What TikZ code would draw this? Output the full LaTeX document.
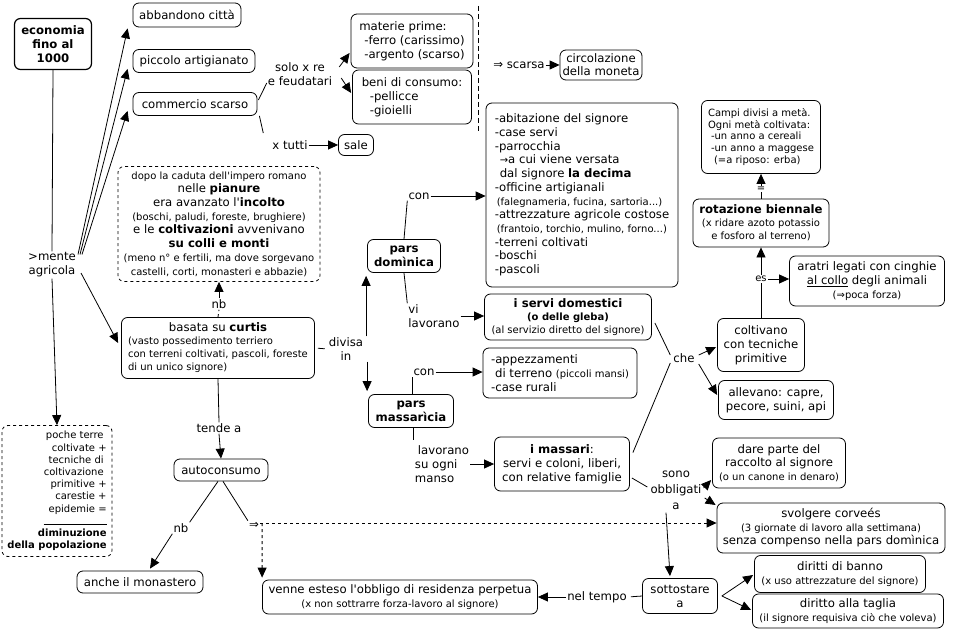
\documentclass[tikz,border=0pt]{standalone}
\usepackage{fontspec}
\setmainfont{DejaVu Sans}[Ligatures=TeXOff]
\usetikzlibrary{arrows.meta,calc}
\newcommand\sm{\fontsize{10}{12}\selectfont}
\newcommand\nf{\fontsize{11.7}{14}\selectfont}
\begin{document}
\begin{tikzpicture}[x=1pt,y=-1pt,
 box/.style={draw, rounded corners=6pt, line width=0.8pt, align=center, inner sep=2pt, font=\nf},
 dbox/.style={box, dashed},
 lbl/.style={inner sep=1pt, align=center, font=\nf},
 arr/.style={-{Triangle[length=10pt,width=9pt]}, line width=0.8pt},
 ln/.style={line width=0.8pt}]
\useasboundingbox[fill=white] (0,0) rectangle (953,631);

% nodes
\node[box, font=\nf\bfseries, line width=1.2pt, minimum width=77pt, minimum height=51pt] (econ) at (53,44) {economia\\fino al\\1000};
\node[box, minimum width=108pt, minimum height=24pt] (abb) at (187,15) {abbandono città};
\node[box, minimum width=122pt, minimum height=23pt] (pic) at (194,61) {piccolo artigianato};
\node[box, minimum width=124pt, minimum height=23pt] (com) at (195,104) {commercio scarso};
\node[lbl] (solo) at (300,74) {solo x re\\e feudatari};
\node[box, align=left, minimum width=122pt, minimum height=54pt] (mat) at (412,41) {materie prime:\\\hspace*{5pt}-ferro (carissimo)\\\hspace*{5pt}-argento (scarso)};
\node[box, align=left, minimum width=119pt, minimum height=54pt] (beni) at (412,97) {beni di consumo:\\\hspace*{8pt}-pellicce\\\hspace*{8pt}-gioielli};
\node[lbl] (xtutti) at (290,145) {x tutti};
\node[box, minimum width=35pt, minimum height=21pt] (sale) at (356,145) {sale};
\node[lbl] (scarsa) at (519,65) {⇒ scarsa};
\node[box, inner sep=1pt, minimum width=82pt, minimum height=30pt, font=\fontsize{11.7}{13}\selectfont] (circ) at (601,65) {circolazione\\della moneta};

\node[box, align=left, font=\fontsize{11.7}{13.7}\selectfont, minimum width=192pt, minimum height=184pt] (list) at (582,195) {-abitazione del signore\\-case servi\\-parrocchia\\\hspace*{5pt}{\sm →}a cui viene versata\\\hspace*{5pt}dal signore \textbf{la decima}\\-officine artigianali\\\hspace*{2pt}{\sm (falegnameria, fucina, sartoria...)}\\-attrezzature agricole costose\\\hspace*{2pt}{\sm (frantoio, torchio, mulino, forno...)}\\-terreni coltivati\\-boschi\\-pascoli};

\node[dbox, font=\fontsize{11.7}{13.7}\selectfont, minimum width=202pt, minimum height=115pt] (dpb) at (219,224) {{\sm dopo la caduta dell'impero romano}\\nelle \textbf{pianure}\\era avanzato l'\textbf{incolto}\\{\sm (boschi, paludi, foreste, brughiere)}\\e le \textbf{coltivazioni} avvenivano\\\textbf{su colli e monti}\\{\sm (meno n° e fertili, ma dove sorgevano}\\{\sm castelli, corti, monasteri e abbazie)}};
\node[lbl] (nb1) at (219,304) {nb};
\node[box, align=left, font=\fontsize{11.7}{13}\selectfont, minimum width=193pt, minimum height=61pt] (curtis) at (218,348) {\makebox[180pt][c]{basata su \textbf{curtis}}\\{\sm (vasto possedimento terriero}\\{\sm con terreni coltivati, pascoli, foreste}\\{\sm di un unico signore)}};
\node[lbl] (divisa) at (346,349) {divisa\\in};
\node[box, font=\nf\bfseries, inner sep=1pt, minimum width=73pt, minimum height=33pt] (pdom) at (404,256) {pars\\domìnica};
\node[lbl] (con1) at (419,196) {con};
\node[lbl, align=left] (vilav) at (434,316) {vi\\lavorano};
\node[box, font=\fontsize{11.7}{12.8}\selectfont, minimum width=167pt, minimum height=46pt] (servi) at (568,317) {\textbf{i servi domestici}\\{\sm\bfseries (o delle gleba)}\\{\sm (al servizio diretto del signore)}};
\node[box, font=\nf\bfseries, inner sep=1pt, minimum width=85pt, minimum height=33pt] (pmas) at (411,411) {pars\\massarìcia};
\node[lbl] (con2) at (424,372) {con};
\node[box, align=left, minimum width=154pt, minimum height=50pt] (app) at (560,373) {-appezzamenti\\\hspace*{4pt}di terreno {\sm (piccoli mansi)}\\-case rurali};
\node[lbl, align=left] (lav) at (442,464) {\hspace*{3pt}lavorano\\su ogni\\manso};
\node[box, minimum width=135pt, minimum height=54pt] (massari) at (562,464) {\textbf{i massari}:\\servi e coloni, liberi,\\con relative famiglie};
\node[lbl] (che) at (684,358) {che};
\node[box, minimum width=87pt, minimum height=53pt] (colt) at (761,345) {coltivano\\con tecniche\\primitive};
\node[box, minimum width=115pt, minimum height=39pt] (alle) at (776,400) {allevano: capre,\\pecore, suini, api};
\node[lbl, font=\sm] (es) at (761,279) {es};
\node[box, font=\fontsize{11.7}{13}\selectfont, minimum width=136pt, minimum height=48pt] (rot) at (761,223) {\textbf{rotazione biennale}\\{\sm (x ridare azoto potassio}\\{\sm e fosforo al terreno)}};
\node[lbl, font=\sm] (eq) at (761,189) {=};
\node[box, align=left, font=\fontsize{10}{11.8}\selectfont, minimum width=119pt, minimum height=73pt] (campi) at (761,137) {Campi divisi a metà.\\Ogni metà coltivata:\\\hspace*{3pt}-un anno a cereali\\\hspace*{3pt}-un anno a maggese\\\hspace*{6pt}(=a riposo: erba)};
\node[box, minimum width=155pt, minimum height=50pt] (aratri) at (867,281) {aratri legati con cinghie\\\underline{al collo} degli animali\\{\sm (⇒poca forza)}};
\node[lbl, font=\fontsize{11.7}{16}\selectfont] (sono) at (676,490) {sono\\obbligati\\a};
\node[box, font=\fontsize{11.7}{13.5}\selectfont, minimum width=133pt, minimum height=50pt] (dare) at (779,463) {dare parte del\\raccolto al signore\\{\sm (o un canone in denaro)}};
\node[box, font=\fontsize{11.7}{13.5}\selectfont, minimum width=228pt, minimum height=50pt] (svo) at (831,528) {svolgere corveés\\{\sm (3 giornate di lavoro alla settimana)}\\senza compenso nella pars domìnica};
\node[box, minimum width=171pt, minimum height=37pt] (banno) at (840,574) {diritti di banno\\{\sm (x uso attrezzature del signore)}};
\node[box, minimum width=191pt, minimum height=34pt] (taglia) at (848,611) {diritto alla taglia\\{\sm (il signore requisiva ciò che voleva)}};
\node[box, minimum width=75pt, minimum height=35pt] (sott) at (680,596) {sottostare\\a};
\node[lbl] (nelt) at (597,597) {nel tempo};
\node[box, minimum width=275pt, minimum height=34pt] (venne) at (400,597) {venne esteso l'obbligo di residenza perpetua\\{\sm (x non sottrarre forza-lavoro al signore)}};
\node[box, minimum width=94pt, minimum height=22pt] (auto) at (221,470) {autoconsumo};
\node[lbl] (tende) at (219,428) {tende a};
\node[lbl] (nb2) at (181,528) {nb};
\node[box, minimum width=126pt, minimum height=22pt] (mon) at (140,582) {anche il monastero};
\node[lbl] (impl) at (254,525) {⇒};
\node[dbox, align=right, font=\fontsize{10}{12.2}\selectfont, minimum width=110pt, minimum height=131pt] (poche) at (57,491) {poche terre\kern3pt\\coltivate +\\tecniche di\kern3pt\\coltivazione\kern3pt\\primitive +\\carestie +\\epidemie =\\\rule{63pt}{0.5pt}\\\textbf{diminuzione}\\\textbf{della popolazione}};
\node[lbl] (mente) at (52,265) {>mente\\agricola};

% connectors
\draw[ln] (econ.south) -- (mente.north);
\draw[arr] (mente.south) -- (poche.north);
\draw[arr] ($(mente.north east)+(1,3)$) -- ($(abb.south west)+(-5,1)$);
\draw[arr] ($(mente.north east)+(3,3)$) -- ($(pic.south west)+(-5,-4)$);
\draw[arr] ($(mente.north east)+(5,3)$) -- ($(com.south west)+(-5,-5)$);
\draw[arr] ($(mente.east)+(4,8)$) -- ($(curtis.west)+(-3,-5)$);
\draw[ln] ($(com.east)+(1,-4)$) -- ($(solo.west)+(0,9)$);
\draw[arr] ($(solo.east)+(6,-7)$) -- ($(mat.west)+(-1,12)$);
\draw[arr] ($(solo.east)+(8,4)$) -- ($(beni.west)+(-1,-4)$);
\draw[ln] ($(com.south east)+(2,0)$) -- ($(xtutti.west)+(-8,-12)$);
\draw[arr] (xtutti.east) -- (sale.west);
\draw[arr] (scarsa.east) -- (circ.west);
\draw[ln, dash pattern=on 5pt off 3pt] (478,6) -- (478,133);

\draw[ln, dashed] (curtis.north) -- (nb1.south);
\draw[arr] (nb1.north) -- (dpb.south);
\draw[ln, shorten <=3pt, shorten >=3pt] (curtis.east) -- (divisa.west);
\draw[arr] ([xshift=-1pt]pdom.south west |- divisa.north) -- ([xshift=-1pt, yshift=-3pt]pdom.south west);
\draw[arr] ([xshift=-1pt]pmas.north west |- divisa.south) -- ([xshift=-1pt, yshift=3pt]pmas.north west);
\draw[ln] (pdom.north) -- (con1.south west);
\draw[arr] (con1.east) -- (con1.east -| list.west);
\draw[ln] (pdom.south) -- (vilav.north west);
\draw[arr] (vilav.east) -- (vilav.east -| servi.west);
\draw[ln] (con2.south west |- pmas.north) -- (con2.south west);
\draw[arr] (con2.east) -- (con2.east -| app.west);
\draw[ln, shorten >=4pt] (lav.north west |- pmas.south) -- (lav.north west);
\draw[arr] (lav.east) -- (lav.east -| massari.west);
\draw[ln] ($(servi.east)+(3,6)$) -- ($(che.west)+(-2,-3)$);
\draw[ln] ($(massari.north east)+(3,16)$) -- ($(che.west)+(-2,5)$);
\draw[arr] ($(che.east)+(3,-3)$) -- ($(colt.west)+(-1,2)$);
\draw[arr] ($(che.east)+(3,6)$) -- ($(alle.west)+(-1,-5)$);
\draw[ln] (colt.north) -- (es.south);
\draw[arr] (es.north) -- (rot.south);
\draw[arr] (es.east) -- (es.east -| aratri.west);
\draw[ln] (rot.north) -- (eq.south);
\draw[arr] (eq.north) -- (campi.south);
\draw[ln] ($(massari.east)+(2,14)$) -- ($(sono.west)+(-2,-3)$);
\draw[arr] ($(sono.east)+(1,-2)$) -- ($(dare.west)+(-1,17)$);
\draw[arr] ($(sono.east)+(2,8)$) -- ($(svo.west)+(-1,-23)$);
\draw[arr] ($(sono.south)+(-10,2)$) -- ($(sott.north)+(-10,-2)$);
\draw[ln, shorten >=3pt] (sott.west) -- (nelt.east);
\draw[arr] (nelt.west) -- (nelt.west -| venne.east);
\draw[arr] ($(sott.east)+(4,0)$) -- ($(banno.west)+(-1,1)$);
\draw[arr] ($(sott.east)+(4,0)$) -- ($(taglia.west)+(-1,-1)$);
\draw[ln] (curtis.south) -- (tende.north);
\draw[arr] (tende.south) -- (auto.north);
\draw[ln] ($(auto.south)+(-3,0)$) -- (nb2.north east);
\draw[arr] (nb2.south west) -- ($(mon.north)+(10,-2)$);
\draw[ln] ($(auto.south)+(2,0)$) -- (impl.north west);
\draw[arr, dashed] ([yshift=2pt]impl.east) -- ([yshift=2pt]impl.east -| svo.west);
\draw[arr, dashed] ($([yshift=2pt]impl.east)+(2,0)$) -- ($(venne.north west)+(0,-2)$);
\end{tikzpicture}
\end{document}
